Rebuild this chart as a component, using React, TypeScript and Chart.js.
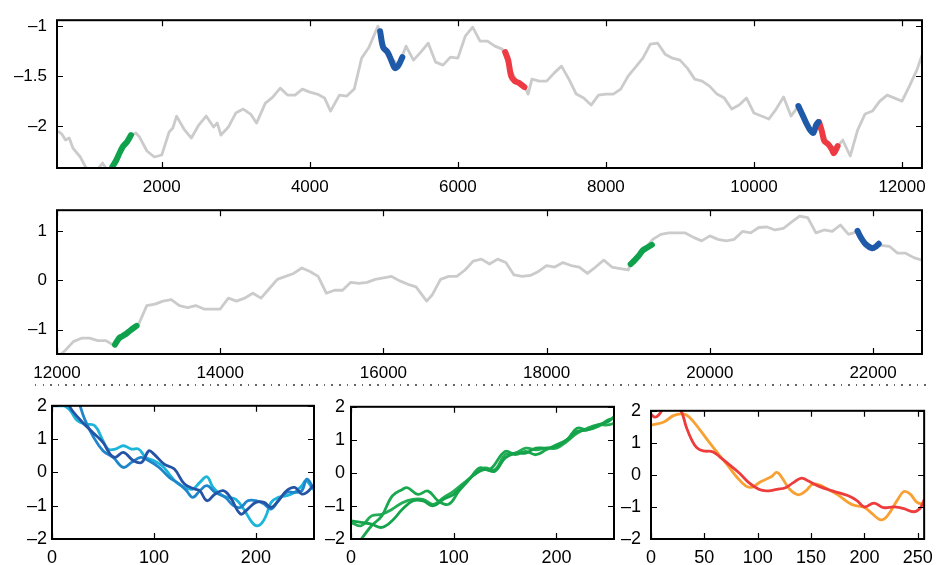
import React, { useEffect, useRef } from "react";
import { Chart, registerables } from "chart.js";

Chart.register(...registerables);

const FONT = "'Liberation Sans', Arial, Helvetica, sans-serif";

// ---------- Tick values ----------
const topXTicks = [2000, 4000, 6000, 8000, 10000, 12000];
const topYTicks = [-2, -1.5, -1];
const midXTicks = [12000, 14000, 16000, 18000, 20000, 22000];
const midYTicks = [-1, 0, 1];
const lowXTicks = [0, 100, 200];
const lowXTicksRight = [0, 50, 100, 150, 200, 250];
const lowYTicks = [-2, -1, 0, 1, 2];

// ---------- Top panel (x 585..12270) ----------
const topGray: [number, number][] = [
  [600, -2.05], [650, -2.08], [700, -2.14], [750, -2.12], [800, -2.22], [900, -2.31], [1000, -2.45], [1100, -2.47],
  [1200, -2.37], [1260, -2.44], [1330, -2.41], [1400, -2.31], [1500, -2.17], [1600, -2.09],
  [1650, -2.07], [1700, -2.11], [1800, -2.25], [1900, -2.31], [2000, -2.29], [2100, -2.06], [2150, -2.02], [2200, -1.9],
  [2300, -2.03], [2400, -2.12], [2500, -1.99], [2600, -1.9], [2700, -2.01], [2750, -1.97], [2800, -2.09],
  [2900, -2.01], [3000, -1.87], [3100, -1.83], [3200, -1.88], [3280, -1.97], [3400, -1.77],
  [3500, -1.71], [3600, -1.62], [3700, -1.69], [3800, -1.69], [3900, -1.63], [4000, -1.66],
  [4100, -1.68], [4200, -1.72], [4280, -1.85], [4400, -1.69], [4500, -1.7], [4600, -1.63],
  [4700, -1.32], [4800, -1.21], [4920, -1.0], [5000, -1.23], [5100, -1.32], [5200, -1.39],
  [5300, -1.2], [5400, -1.34], [5500, -1.26], [5600, -1.17], [5700, -1.36], [5800, -1.39],
  [5900, -1.31], [6000, -1.32], [6100, -1.1], [6200, -1.01], [6300, -1.15], [6400, -1.15],
  [6500, -1.2], [6600, -1.23], [6700, -1.42], [6800, -1.55], [6900, -1.6], [6950, -1.68],
  [7000, -1.53], [7100, -1.55], [7200, -1.55], [7300, -1.47], [7400, -1.4], [7500, -1.53],
  [7600, -1.68], [7700, -1.72], [7800, -1.79], [7900, -1.69], [8000, -1.68], [8100, -1.68],
  [8200, -1.63], [8300, -1.5], [8400, -1.41], [8500, -1.32], [8600, -1.18], [8700, -1.17],
  [8800, -1.28], [8900, -1.32], [9000, -1.34], [9100, -1.42], [9200, -1.53], [9300, -1.55],
  [9400, -1.6], [9500, -1.68], [9600, -1.72], [9700, -1.83], [9800, -1.79], [9900, -1.72],
  [10000, -1.87], [10100, -1.9], [10200, -1.93], [10300, -1.83], [10400, -1.71], [10500, -1.9],
  [10600, -1.8], [10700, -1.96], [10800, -2.05], [10900, -2.01], [11000, -2.18], [11100, -2.23],
  [11200, -2.14], [11300, -2.3], [11400, -2.04], [11500, -1.88], [11600, -1.85], [11700, -1.75],
  [11800, -1.69], [11900, -1.72], [12000, -1.75], [12100, -1.6], [12200, -1.44], [12270, -1.29],
];
const topGreen1: [number, number][] = [[1330, -2.41], [1380, -2.35], [1430, -2.27], [1480, -2.2], [1530, -2.16], [1585, -2.09]];
const topBlue1: [number, number][] = [[4950, -1.05], [4990, -1.21], [5050, -1.26], [5100, -1.34], [5150, -1.42], [5200, -1.39], [5250, -1.31]];
const topRed1: [number, number][] = [[6640, -1.26], [6680, -1.34], [6720, -1.5], [6770, -1.55], [6830, -1.57], [6900, -1.61]];
const topBlue2: [number, number][] = [[10600, -1.8], [10650, -1.88], [10700, -1.96], [10750, -2.03], [10800, -2.07], [10840, -1.99], [10870, -1.96]];
const topRed2: [number, number][] = [[10880, -1.96], [10920, -2.06], [10950, -2.15], [11000, -2.18], [11050, -2.23], [11080, -2.27], [11130, -2.2]];

// ---------- Middle panel (x 12000..22600) ----------
const midGray: [number, number][] = [
  [12000, -1.55], [12050, -1.49], [12100, -1.42], [12200, -1.24], [12300, -1.17], [12400, -1.17],
  [12500, -1.22], [12600, -1.22], [12700, -1.32], [12800, -1.15], [12900, -1.03], [13000, -0.89],
  [13100, -0.51], [13200, -0.48], [13300, -0.42], [13400, -0.39], [13500, -0.51], [13600, -0.55],
  [13700, -0.51], [13800, -0.58], [13900, -0.58], [14000, -0.58], [14100, -0.36], [14200, -0.42],
  [14300, -0.36], [14400, -0.26], [14500, -0.36], [14600, -0.17], [14700, 0.02], [14800, 0.08],
  [14900, 0.14], [15000, 0.25], [15100, 0.18], [15200, 0.08], [15300, -0.26], [15400, -0.2],
  [15500, -0.2], [15600, -0.04], [15700, -0.06], [15800, -0.04], [15900, 0.02], [16000, 0.05],
  [16100, 0.08], [16200, -0.01], [16300, -0.08], [16400, -0.13], [16530, -0.42], [16600, -0.29],
  [16700, 0.02], [16800, 0.08], [16900, 0.08], [17000, 0.21], [17100, 0.39], [17200, 0.43],
  [17300, 0.33], [17400, 0.43], [17500, 0.36], [17600, 0.11], [17700, 0.08], [17800, 0.1],
  [17900, 0.18], [18000, 0.3], [18100, 0.27], [18200, 0.36], [18300, 0.3], [18400, 0.27],
  [18500, 0.14], [18600, 0.27], [18700, 0.41], [18800, 0.27], [18900, 0.24], [19000, 0.21],
  [19030, 0.33], [19100, 0.44], [19200, 0.63], [19300, 0.83], [19400, 0.93], [19500, 0.96],
  [19600, 0.96], [19700, 0.96], [19800, 0.87], [19900, 0.8], [20000, 0.9], [20100, 0.83],
  [20200, 0.8], [20300, 0.83], [20400, 0.99], [20500, 0.96], [20600, 1.07], [20700, 1.08],
  [20800, 1.02], [20900, 1.05], [21000, 1.18], [21100, 1.3], [21200, 1.27], [21300, 0.96],
  [21400, 1.02], [21500, 0.99], [21600, 1.12], [21700, 0.93], [21800, 0.98], [21900, 0.77],
  [22000, 0.66], [22100, 0.71], [22200, 0.69], [22300, 0.55], [22400, 0.55], [22500, 0.46],
  [22600, 0.41],
];
const midGreen1: [number, number][] = [[12710, -1.3], [12760, -1.17], [12800, -1.13], [12850, -1.08], [12900, -1.01], [12975, -0.92]];
const midGreen2: [number, number][] = [[19030, 0.33], [19080, 0.41], [19130, 0.5], [19180, 0.61], [19230, 0.66], [19290, 0.72]];
const midBlue1: [number, number][] = [[21810, 1.0], [21850, 0.87], [21910, 0.73], [21990, 0.65], [22040, 0.69], [22070, 0.74]];

// ---------- Bottom-left (blues) ----------
const blueA: [number, number][] = [
  [16, 2.05], [20, 1.85], [30, 1.5], [40, 1.2], [50, 0.9], [57, 0.55], [62, 0.45], [70, 0.6], [80, 0.35],
  [88, 0.3], [95, 0.65], [100, 0.55], [110, 0.25], [120, 0.1], [130, -0.35], [140, -0.5], [145, -0.55],
  [152, -0.85], [160, -0.65], [168, -0.55], [175, -0.75], [185, -1.25], [192, -1.1], [200, -0.9],
  [208, -0.9], [215, -1.05], [222, -0.85], [230, -0.55], [238, -0.45], [245, -0.65], [250, -0.6], [256, -0.4],
];
const blueB: [number, number][] = [
  [27, 2.05], [32, 1.6], [40, 1.1], [50, 0.65], [60, 0.45], [70, 0.15], [78, 0.3], [87, 0.45], [95, 0.35],
  [105, 0.15], [115, -0.15], [125, -0.35], [132, -0.55], [138, -0.75], [145, -0.55], [152, -0.4], [160, -0.6],
  [170, -0.75], [178, -1.0], [185, -1.05], [192, -0.85], [200, -0.85], [208, -0.95], [215, -1.1], [222, -0.85],
  [230, -0.6], [238, -0.6], [245, -0.55], [250, -0.2], [256, -0.45],
];
const blueC: [number, number][] = [
  [0, 2.0], [12, 2.0], [18, 1.85], [25, 1.55], [33, 1.45], [42, 1.4], [50, 0.95], [55, 0.7], [62, 0.7],
  [70, 0.8], [78, 0.7], [85, 0.7], [92, 0.45], [100, 0.35], [108, 0.2], [115, -0.05], [122, -0.3], [130, -0.45],
  [138, -0.5], [145, -0.3], [152, -0.13], [158, -0.45], [165, -0.65], [172, -0.75], [180, -0.8], [188, -1.1],
  [195, -1.45], [200, -1.6], [205, -1.55], [210, -1.3], [215, -0.9], [222, -0.75], [230, -0.7], [238, -0.6],
  [245, -0.4], [249, -0.25], [256, -0.5],
];

// ---------- Bottom-middle (greens) ----------
const greenA: [number, number][] = [
  [0, -1.45], [10, -1.5], [20, -1.55], [30, -1.65], [40, -1.45], [50, -1.1], [60, -0.85], [70, -0.85],
  [80, -1.0], [90, -0.8], [100, -0.65], [110, -0.35], [120, -0.05], [130, 0.1], [140, 0.05], [150, 0.45],
  [160, 0.6], [170, 0.6], [180, 0.75], [190, 0.75], [200, 0.8], [210, 1.0], [220, 1.25], [230, 1.3],
  [240, 1.45], [250, 1.55], [256, 1.7],
];
const greenB: [number, number][] = [
  [10, -2.0], [20, -1.6], [30, -1.3], [40, -0.7], [50, -0.5], [55, -0.45], [65, -0.65], [75, -0.55],
  [85, -0.85], [95, -0.95], [105, -0.55], [115, -0.2], [125, 0.15], [135, 0.1], [150, 0.65], [160, 0.55],
  [170, 0.65], [180, 0.55], [190, 0.7], [200, 0.85], [210, 1.0], [220, 1.35], [230, 1.3], [240, 1.4],
  [250, 1.6], [256, 1.65],
];
const greenC: [number, number][] = [
  [0, -1.5], [10, -1.6], [20, -1.3], [30, -1.25], [40, -1.1], [50, -0.9], [60, -0.8], [70, -0.8],
  [80, -0.95], [90, -0.75], [100, -0.55], [110, -0.3], [120, -0.05], [130, 0.15], [140, 0.1], [150, 0.55],
  [160, 0.6], [170, 0.75], [180, 0.7], [190, 0.75], [200, 0.75], [210, 0.95], [220, 1.2], [230, 1.35],
  [240, 1.45], [250, 1.45], [256, 1.5],
];

// ---------- Bottom-right (red / orange) ----------
const redLine: [number, number][] = [
  [0, 1.88], [4, 1.8], [8, 1.9], [12, 2.1], [20, 2.2], [28, 2.0], [33, 1.5], [38, 1.1], [43, 0.85], [49, 0.75],
  [58, 0.72], [65, 0.55], [73, 0.33], [83, 0.05], [92, -0.25], [101, -0.45], [108, -0.5], [118, -0.45],
  [126, -0.4], [133, -0.25], [141, -0.1], [148, -0.2], [157, -0.35], [170, -0.5], [185, -0.65], [193, -0.8],
  [200, -1.0], [209, -0.88], [218, -1.02], [228, -1.0], [237, -1.05], [246, -1.15], [252, -1.05], [256, -0.78],
];
const orangeLine: [number, number][] = [
  [0, 1.55], [12, 1.65], [21, 1.85], [30, 1.9], [36, 1.8], [46, 1.4], [55, 1.0], [64, 0.62], [73, 0.25],
  [80, -0.05], [89, -0.35], [95, -0.38], [101, -0.25], [107, -0.15], [113, -0.05], [118, 0.08], [123, -0.1],
  [130, -0.45], [138, -0.62], [145, -0.5], [151, -0.3], [157, -0.3], [163, -0.4], [175, -0.62], [188, -0.92],
  [200, -1.02], [207, -1.2], [215, -1.4], [221, -1.3], [231, -0.78], [237, -0.52], [243, -0.6], [249, -0.85],
  [256, -0.92],
];

const GRAY = "#cbcbcb";
const BLUE = "#1f5aa8";
const GREEN = "#0fa14c";
const RED = "#ee3b43";

const fmt = (v: number | string) => String(v).replace("-", "\u2013");
const pts = (a: [number, number][]) => a.map(([x, y]) => ({ x, y }));

const framePlugin = {
  id: "matlabFrame",
  afterDraw(chart: any) {
    const { ctx, chartArea: a, scales } = chart;
    const tl = 6;
    ctx.save();
    ctx.strokeStyle = "#000";
    ctx.lineWidth = 1.2;
    ctx.beginPath();
    scales.x.ticks.forEach((t: any) => {
      const px = Math.round(scales.x.getPixelForValue(t.value)) + 0.5;
      ctx.moveTo(px, a.bottom);
      ctx.lineTo(px, a.bottom - tl);
      ctx.moveTo(px, a.top);
      ctx.lineTo(px, a.top + tl);
    });
    scales.y.ticks.forEach((t: any) => {
      const py = Math.round(scales.y.getPixelForValue(t.value)) + 0.5;
      ctx.moveTo(a.left, py);
      ctx.lineTo(a.left + tl, py);
      ctx.moveTo(a.right, py);
      ctx.lineTo(a.right - tl, py);
    });
    ctx.stroke();
    ctx.lineWidth = 2;
    ctx.strokeRect(a.left, a.top, a.right - a.left, a.bottom - a.top);
    ctx.restore();
  },
};

type PanelProps = {
  left: number; top: number; width: number; height: number;
  plot: { left: number; top: number; right: number; bottom: number };
  datasets: any[];
  x: [number, number]; xTicks: number[];
  y: [number, number]; yTicks: number[];
  fontSize: number; yPad: number; xPad: number;
};

function Panel(p: PanelProps) {
  const ref = useRef<HTMLCanvasElement | null>(null);
  useEffect(() => {
    if (!ref.current) return;
    const tickFont = { family: FONT, size: p.fontSize };
    const chart = new Chart(ref.current, {
      type: "line",
      data: { datasets: p.datasets },
      options: {
        responsive: false,
        animation: false,
        devicePixelRatio: 1,
        layout: { padding: { top: p.plot.top - p.top, right: p.left + p.width - p.plot.right, left: 0, bottom: 0 } },
        plugins: { legend: { display: false }, tooltip: { enabled: false } },
        elements: { point: { radius: 0 } },
        scales: {
          x: {
            type: "linear",
            min: p.x[0], max: p.x[1],
            afterBuildTicks: (s: any) => { s.ticks = p.xTicks.map((value) => ({ value })); },
            afterFit: (s: any) => { s.height = p.top + p.height - p.plot.bottom; },
            grid: { display: false, drawTicks: false },
            border: { display: false },
            ticks: {
              padding: p.xPad, color: "#000",
              font: tickFont, callback: (v: any) => fmt(v), maxRotation: 0, autoSkip: false,
            },
          },
          y: {
            type: "linear",
            min: p.y[0], max: p.y[1],
            afterBuildTicks: (s: any) => { s.ticks = p.yTicks.map((value) => ({ value })); },
            afterFit: (s: any) => { s.width = p.plot.left - p.left; },
            grid: { display: false, drawTicks: false },
            border: { display: false },
            ticks: {
              padding: p.yPad, color: "#000",
              font: tickFont, callback: (v: any) => fmt(v), autoSkip: false,
            },
          },
        },
      } as any,
      plugins: [framePlugin],
    });
    return () => chart.destroy();
  }, []);
  return (
    <canvas
      ref={ref}
      width={p.width}
      height={p.height}
      style={{ position: "absolute", left: p.left, top: p.top, width: p.width, height: p.height }}
    />
  );
}

const grayDs = (d: [number, number][]) => ({ data: pts(d), borderColor: GRAY, borderWidth: 2.8, tension: 0, order: 10, borderJoinStyle: "round" });
const segDs = (d: [number, number][], c: string) => ({ data: pts(d), borderColor: c, borderWidth: 6, tension: 0.3, order: 0, borderCapStyle: "round", borderJoinStyle: "round" });
const smoothDs = (d: [number, number][], c: string) => ({ data: pts(d), borderColor: c, borderWidth: 2.8, tension: 0.4, borderJoinStyle: "round", borderCapStyle: "round" });

export default function App() {
  return (
    <div style={{ position: "fixed", left: 0, top: 0, width: 941, height: 565, background: "#fff", overflow: "hidden" }}>
      <Panel
        left={0} top={0} width={941} height={195}
        plot={{ left: 57, top: 13, right: 922, bottom: 168 }}
        datasets={[
          grayDs(topGray),
          segDs(topGreen1, GREEN), segDs(topBlue1, BLUE), segDs(topRed1, RED),
          segDs(topBlue2, BLUE), segDs(topRed2, RED),
        ]}
        x={[585, 12270]} xTicks={topXTicks} y={[-2.42, -0.94]} yTicks={topYTicks}
        fontSize={17} yPad={10} xPad={9}
      />
      <Panel
        left={0} top={190} width={941} height={190}
        plot={{ left: 57, top: 199, right: 922, bottom: 354 }}
        datasets={[grayDs(midGray), segDs(midGreen1, GREEN), segDs(midGreen2, GREEN), segDs(midBlue1, BLUE)]}
        x={[12000, 22600]} xTicks={midXTicks} y={[-1.49, 1.42]} yTicks={midYTicks}
        fontSize={17} yPad={10} xPad={9}
      />
      <div
        style={{
          position: "absolute", left: 35, top: 384, width: 894, height: 1.5,
          background: "repeating-linear-gradient(to right, #666 0 1.5px, transparent 1.5px 7.6px)",
        }}
      />
      <Panel
        left={0} top={390} width={330} height={175}
        plot={{ left: 52, top: 403, right: 314, bottom: 539 }}
        datasets={[smoothDs(blueA, "#2553a5"), smoothDs(blueB, "#1f86cc"), smoothDs(blueC, "#1cb5da")]}
        x={[0, 257]} xTicks={lowXTicks} y={[-2, 2]} yTicks={lowYTicks}
        fontSize={18} yPad={5} xPad={8}
      />
      <Panel
        left={320} top={390} width={310} height={175}
        plot={{ left: 351, top: 403, right: 614, bottom: 539 }}
        datasets={[smoothDs(greenA, "#14a34b"), smoothDs(greenB, "#19a84e"), smoothDs(greenC, "#22ad55")]}
        x={[0, 256]} xTicks={lowXTicks} y={[-2, 2]} yTicks={lowYTicks}
        fontSize={18} yPad={6} xPad={8}
      />
      <Panel
        left={620} top={390} width={321} height={175}
        plot={{ left: 651, top: 403, right: 931, bottom: 539 }}
        datasets={[smoothDs(redLine, "#ee3b3b"), smoothDs(orangeLine, "#f8a132")]}
        x={[0, 256]} xTicks={lowXTicksRight} y={[-2, 2]} yTicks={lowYTicks}
        fontSize={18} yPad={10} xPad={8}
      />
    </div>
  );
}
